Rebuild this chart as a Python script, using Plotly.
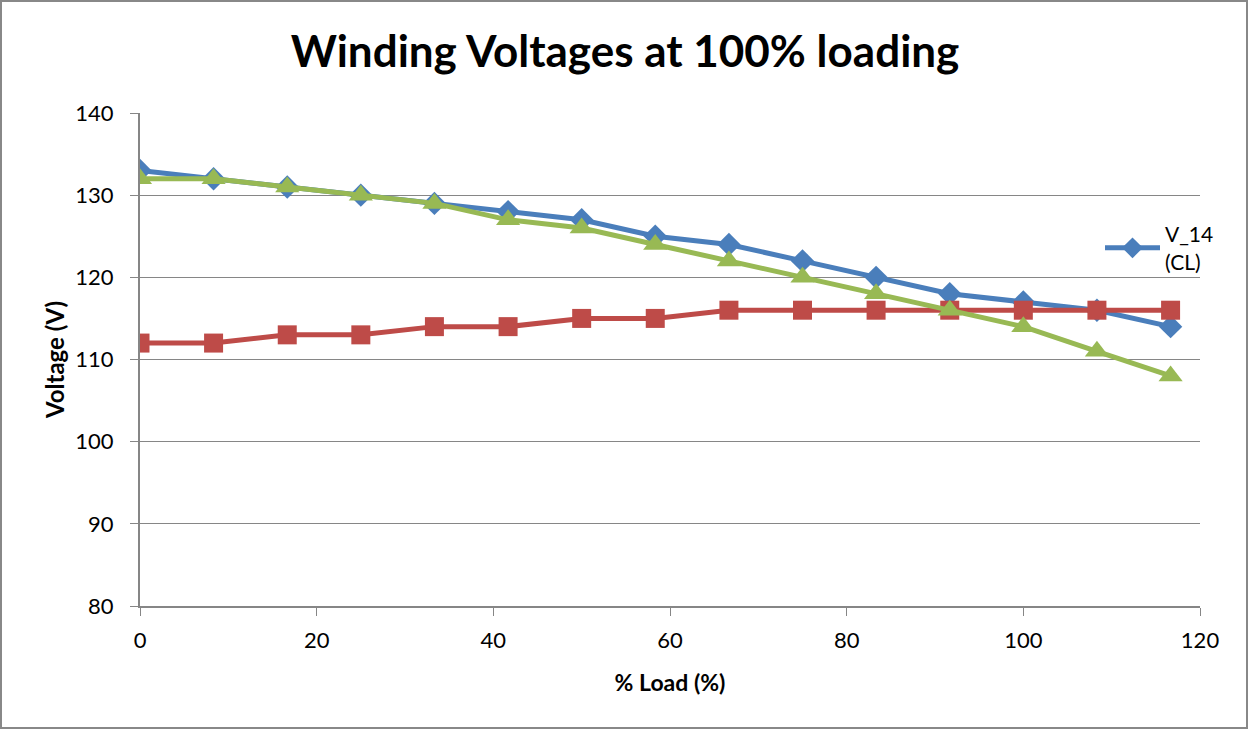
import plotly.graph_objects as go

load_pct = [0, 8.33, 16.67, 25, 33.33, 41.67, 50, 58.33, 66.67, 75, 83.33, 91.67, 100, 108.33, 116.67]
v14_cl = [133, 132, 131, 130, 129, 128, 127, 125, 124, 122, 120, 118, 117, 116, 114]
v_red = [112, 112, 113, 113, 114, 114, 115, 115, 116, 116, 116, 116, 116, 116, 116]
v_green = [132, 132, 131, 130, 129, 127, 126, 124, 122, 120, 118, 116, 114, 111, 108]

FONT = "Lato"
W, H = 1249, 729
L, R, T, B = 140, 1200, 113, 606

fig = go.Figure()
fig.add_trace(go.Scatter(x=load_pct, y=v14_cl, mode="lines+markers", name="V_14<br>(CL)",
                         line=dict(color="#4A7EBB", width=5),
                         marker=dict(symbol="diamond", size=18, color="#4A7EBB")))
fig.add_trace(go.Scatter(x=load_pct, y=v_red, mode="lines+markers", name="V_red", showlegend=False,
                         line=dict(color="#BE4B48", width=5),
                         marker=dict(symbol="square", size=19, color="#BE4B48")))
fig.add_trace(go.Scatter(x=load_pct, y=v_green, mode="lines+markers", name="V_green", showlegend=False,
                         line=dict(color="#98B954", width=5),
                         marker=dict(symbol="triangle-up", size=21, color="#98B954")))

def px(x):
    return (x - L) / (R - L)

def py(y):
    return (B - y) / (B - T)

fig.update_layout(
    width=W, height=H,
    margin=dict(l=L, r=W - R, t=T, b=H - B),
    paper_bgcolor="white", plot_bgcolor="white",
    font=dict(family=FONT, color="black", size=22),
    title=dict(text="<b>Winding Voltages at 100% loading</b>", x=625 / W, xanchor="center",
               xref="container", y=1 - 52 / H, yanchor="middle", yref="container",
               font=dict(family=FONT, size=44, color="black")),
    showlegend=True,
    legend=dict(x=px(1100), y=py(214), xanchor="left", yanchor="top",
                font=dict(family=FONT, size=21, color="black"),
                bgcolor="rgba(0,0,0,0)", itemwidth=55, tracegroupgap=0),
    xaxis=dict(range=[0, 120], dtick=20, tick0=0, showgrid=False, zeroline=False,
               showline=True, linecolor="#868686", linewidth=2,
               ticks="outside", ticklen=8, tickcolor="#868686", tickwidth=1,
               ticklabelstandoff=6,
               tickfont=dict(family=FONT, size=22),
               title=dict(text="<b>% Load (%)</b>", font=dict(family=FONT, size=23), standoff=22)),
    yaxis=dict(range=[80, 140], dtick=10, tick0=80, showgrid=True, gridcolor="#868686", gridwidth=1,
               zeroline=False, showline=True, linecolor="#868686", linewidth=2,
               ticks="outside", ticklen=8, tickcolor="#868686", tickwidth=1,
               ticklabelstandoff=12,
               tickfont=dict(family=FONT, size=22),
               title=dict(text="<b>Voltage (V)</b>", font=dict(family=FONT, size=24), standoff=4)),
    shapes=[dict(type="rect", xref="paper", yref="paper",
                 x0=px(1), x1=px(1247), y0=py(728), y1=py(1),
                 line=dict(color="#888888", width=2), fillcolor="rgba(0,0,0,0)", layer="below")],
)

fig.write_html("out.html")
